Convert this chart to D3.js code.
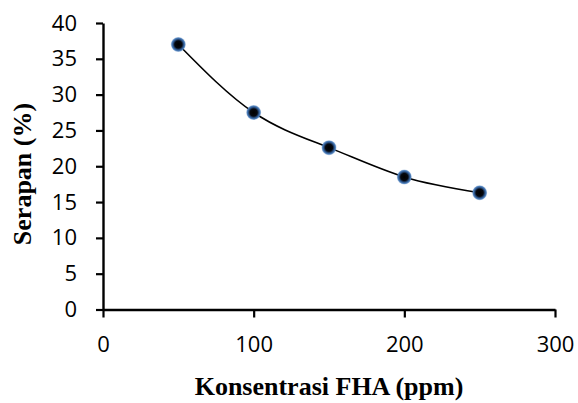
<!DOCTYPE html>
<html>
<head>
<meta charset="utf-8">
<script src="https://cdn.jsdelivr.net/npm/d3@7"></script>
<style>
  html, body { margin: 0; padding: 0; background: #fff; }
  svg { display: block; }
</style>
</head>
<body>
<svg id="chart" width="578" height="403"></svg>
<script>
const concentrations = [50, 100, 150, 200, 250];
const uptake = [37.0, 27.5, 22.6, 18.5, 16.3];
const xTicks = [0, 100, 200, 300];
const yTicks = [0, 5, 10, 15, 20, 25, 30, 35, 40];
const xTitle = "Konsentrasi FHA (ppm)";
const yTitle = "Serapan (%)";

const W = 578, H = 403;
const margin = { top: 23, right: 23, bottom: 93.5, left: 103 };
const svg = d3.select("#chart");

const x = d3.scaleLinear().domain([0, 300]).range([margin.left, W - margin.right]);
const y = d3.scaleLinear().domain([0, 40]).range([H - margin.bottom, margin.top]);

const tickFont = "'Open Sans', 'Noto Sans', sans-serif";

// gradient for markers
const defs = svg.append("defs");
const grad = defs.append("radialGradient").attr("id", "mk");
grad.append("stop").attr("offset", "0%").attr("stop-color", "#000");
grad.append("stop").attr("offset", "48%").attr("stop-color", "#05080f");
grad.append("stop").attr("offset", "70%").attr("stop-color", "#2b5286");
grad.append("stop").attr("offset", "86%").attr("stop-color", "#4f81bd");
grad.append("stop").attr("offset", "100%").attr("stop-color", "#4f81bd").attr("stop-opacity", 0.35);

// Y axis
const yAxis = svg.append("g")
  .attr("transform", `translate(${margin.left},0)`)
  .call(d3.axisLeft(y).tickValues(yTicks).tickSize(7).tickSizeOuter(0).tickPadding(19));
yAxis.select(".domain").attr("stroke", "#000").attr("stroke-width", 2.4);
yAxis.selectAll(".tick line").attr("stroke", "#000").attr("stroke-width", 2.2);
yAxis.selectAll(".tick text")
  .attr("font-family", tickFont).attr("font-size", 22).attr("fill", "#000");

// X axis
const xAxis = svg.append("g")
  .attr("transform", `translate(0,${H - margin.bottom})`)
  .call(d3.axisBottom(x).tickValues(xTicks).tickSize(8).tickSizeOuter(0).tickPadding(19));
xAxis.select(".domain").attr("stroke", "#000").attr("stroke-width", 2.4);
xAxis.selectAll(".tick line").attr("stroke", "#000").attr("stroke-width", 2.2);
xAxis.selectAll(".tick text")
  .attr("font-family", tickFont).attr("font-size", 22).attr("fill", "#000");

// Smooth curve through points
const pts = concentrations.map((c, i) => [c, uptake[i]]);
svg.append("path")
  .datum(pts)
  .attr("d", d3.line().x(d => x(d[0])).y(d => y(d[1])).curve(d3.curveNatural))
  .attr("fill", "none").attr("stroke", "#000").attr("stroke-width", 1.6);

// Markers
svg.append("g").selectAll("circle")
  .data(pts).join("circle")
  .attr("cx", d => x(d[0])).attr("cy", d => y(d[1]))
  .attr("r", 7.5).attr("fill", "url(#mk)");

// Titles
svg.append("text")
  .attr("x", (margin.left + W - margin.right) / 2).attr("y", 395)
  .attr("text-anchor", "middle")
  .attr("font-family", "'Liberation Serif', 'Times New Roman', serif")
  .attr("font-weight", "bold").attr("font-size", 26).attr("fill", "#000")
  .text(xTitle);

svg.append("text")
  .attr("transform", "translate(31,174) rotate(-90)")
  .attr("text-anchor", "middle")
  .attr("font-family", "'Liberation Serif', 'Times New Roman', serif")
  .attr("font-weight", "bold").attr("font-size", 26).attr("fill", "#000")
  .text(yTitle);
</script>
</body>
</html>
